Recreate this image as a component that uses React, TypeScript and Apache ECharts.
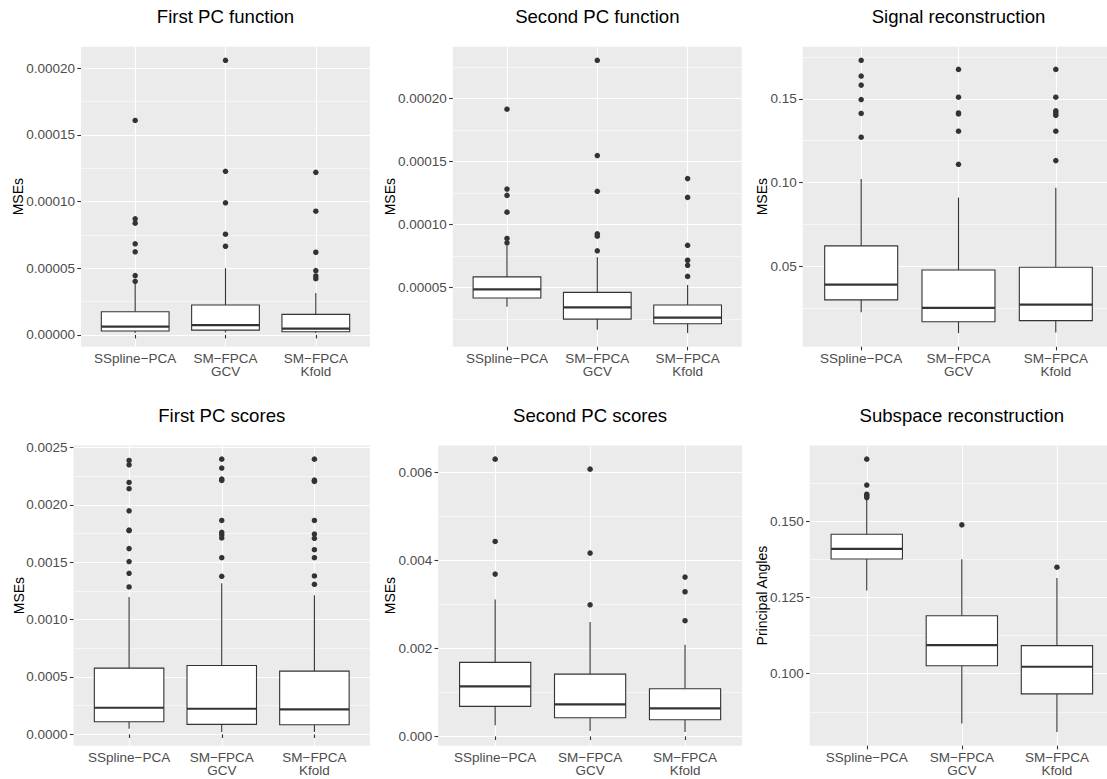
import React, { useEffect, useRef } from "react";
import * as echarts from "echarts";

// ---------- data ----------
const categories = ["SSpline−PCA", "SM−FPCA\nGCV", "SM−FPCA\nKfold"];
const categoryPositions = [1, 2, 3];

const panelTitles = [
  "First PC function",
  "Second PC function",
  "Signal reconstruction",
  "First PC scores",
  "Second PC scores",
  "Subspace reconstruction",
];
const yAxisTitles = ["MSEs", "MSEs", "MSEs", "MSEs", "MSEs", "Principal Angles"];

// boxes: [lower whisker, Q1, median, Q3, upper whisker]
const firstPcFunctionBoxes = [
  [1.3e-6, 2.8e-6, 6.2e-6, 1.73e-5, 3.85e-5],
  [1.7e-6, 3.5e-6, 7.3e-6, 2.23e-5, 5.0e-5],
  [1.3e-6, 2.3e-6, 4.7e-6, 1.53e-5, 3.13e-5],
];
const firstPcFunctionOutliers = [
  [1.607e-4, 8.7e-5, 8.37e-5, 6.82e-5, 6.22e-5, 4.44e-5, 4.01e-5],
  [2.058e-4, 1.226e-4, 9.9e-5, 7.54e-5, 6.64e-5],
  [1.218e-4, 9.27e-5, 6.19e-5, 4.81e-5, 4.41e-5, 4.21e-5],
];
const firstPcFunctionTicks = [0, 0.00005, 0.0001, 0.00015, 0.0002];
const firstPcFunctionMinorTicks = [0.000025, 0.000075, 0.000125, 0.000175];

const secondPcFunctionBoxes = [
  [3.46e-5, 4.15e-5, 4.84e-5, 5.83e-5, 8.3e-5],
  [1.63e-5, 2.48e-5, 3.41e-5, 4.6e-5, 7.39e-5],
  [1.37e-5, 2.11e-5, 2.59e-5, 3.6e-5, 5.19e-5],
];
const secondPcFunctionOutliers = [
  [1.914e-4, 1.28e-4, 1.23e-4, 1.097e-4, 8.88e-5, 8.53e-5],
  [2.302e-4, 1.546e-4, 1.262e-4, 9.25e-5, 9.06e-5, 7.9e-5],
  [1.363e-4, 1.214e-4, 8.34e-5, 7.15e-5, 6.75e-5, 5.87e-5],
];
const secondPcFunctionTicks = [0.00005, 0.0001, 0.00015, 0.0002];
const secondPcFunctionMinorTicks = [0.000025, 0.000075, 0.000125, 0.000175, 0.000225];

const signalBoxes = [
  [0.0225, 0.0299, 0.039, 0.0622, 0.1021],
  [0.0101, 0.0169, 0.0251, 0.0478, 0.091],
  [0.0105, 0.0175, 0.0271, 0.0494, 0.0969],
];
const signalOutliers = [
  [0.173, 0.1636, 0.1582, 0.1496, 0.1413, 0.1271],
  [0.1676, 0.151, 0.1416, 0.141, 0.1307, 0.1109],
  [0.1676, 0.151, 0.1428, 0.1416, 0.1402, 0.1307, 0.1131],
];
const signalTicks = [0.05, 0.1, 0.15];
const signalMinorTicks = [0.025, 0.075, 0.125, 0.175];

const firstPcScoresBoxes = [
  [4.9e-5, 1.1e-4, 2.32e-4, 5.77e-4, 1.198e-3],
  [2.0e-5, 8.7e-5, 2.23e-4, 6.0e-4, 1.317e-3],
  [2.0e-5, 8.4e-5, 2.18e-4, 5.51e-4, 1.213e-3],
];
const firstPcScoresOutliers = [
  [2.388e-3, 2.35e-3, 2.196e-3, 2.141e-3, 1.949e-3, 1.781e-3, 1.775e-3, 1.619e-3, 1.506e-3, 1.404e-3, 1.285e-3],
  [2.399e-3, 2.321e-3, 2.225e-3, 2.213e-3, 1.865e-3, 1.761e-3, 1.741e-3, 1.712e-3, 1.54e-3, 1.378e-3],
  [2.399e-3, 2.216e-3, 2.205e-3, 1.865e-3, 1.746e-3, 1.709e-3, 1.61e-3, 1.54e-3, 1.381e-3, 1.308e-3],
];
const firstPcScoresTicks = [0, 0.0005, 0.001, 0.0015, 0.002, 0.0025];
const firstPcScoresMinorTicks = [0.00025, 0.00075, 0.00125, 0.00175, 0.00225];

const secondPcScoresBoxes = [
  [2.5e-4, 6.82e-4, 1.136e-3, 1.682e-3, 3.114e-3],
  [1.2e-4, 4.24e-4, 7.27e-4, 1.416e-3, 2.598e-3],
  [9.8e-5, 3.79e-4, 6.36e-4, 1.083e-3, 2.083e-3],
];
const secondPcScoresOutliers = [
  [6.303e-3, 4.432e-3, 3.689e-3],
  [6.076e-3, 4.167e-3, 2.992e-3],
  [3.621e-3, 3.288e-3, 2.629e-3],
];
const secondPcScoresTicks = [0, 0.002, 0.004, 0.006];
const secondPcScoresMinorTicks = [0.001, 0.003, 0.005];

const subspaceBoxes = [
  [0.1273, 0.1376, 0.1409, 0.1457, 0.1572],
  [0.0837, 0.1026, 0.1094, 0.119, 0.1375],
  [0.0809, 0.0934, 0.1023, 0.1092, 0.1314],
];
const subspaceOutliers = [
  [0.1703, 0.1618, 0.1588, 0.1583, 0.1577],
  [0.1488],
  [0.1349],
];
const subspaceTicks = [0.1, 0.125, 0.15];
const subspaceMinorTicks = [0.0875, 0.1125, 0.1375, 0.1625];

const tickDecimals = [5, 5, 2, 4, 3, 3];

const panelBoxes = [firstPcFunctionBoxes, secondPcFunctionBoxes, signalBoxes, firstPcScoresBoxes, secondPcScoresBoxes, subspaceBoxes];
const panelOutliers = [firstPcFunctionOutliers, secondPcFunctionOutliers, signalOutliers, firstPcScoresOutliers, secondPcScoresOutliers, subspaceOutliers];
const panelTicks = [firstPcFunctionTicks, secondPcFunctionTicks, signalTicks, firstPcScoresTicks, secondPcScoresTicks, subspaceTicks];
const panelMinorTicks = [firstPcFunctionMinorTicks, secondPcFunctionMinorTicks, signalMinorTicks, firstPcScoresMinorTicks, secondPcScoresMinorTicks, subspaceMinorTicks];

// ---------- layout ----------
const layout = [
  { left: 81, top: 46.7, width: 289, height: 300, titleY: 16, axisTitleX: 18.3 },
  { left: 452.8, top: 46.7, width: 289, height: 300, titleY: 16, axisTitleX: 389.5 },
  { left: 802.8, top: 46.7, width: 311.4, height: 300, titleY: 16, axisTitleX: 761.8 },
  { left: 73.5, top: 445.5, width: 296.5, height: 300.2, titleY: 415, axisTitleX: 18.7 },
  { left: 438.2, top: 445.5, width: 303.8, height: 300.2, titleY: 415, axisTitleX: 390.3 },
  { left: 809.7, top: 445.5, width: 304.3, height: 300.2, titleY: 415, axisTitleX: 761.5 },
];

const FONT = "'Liberation Sans', Arial, Helvetica, sans-serif";
const INK = "#333333";

function rangeOf(boxes: number[][], outliers: number[][]) {
  let lo = Infinity;
  let hi = -Infinity;
  boxes.forEach((b) => {
    lo = Math.min(lo, b[0]);
    hi = Math.max(hi, b[4]);
  });
  outliers.forEach((o) => o.forEach((v) => {
    lo = Math.min(lo, v);
    hi = Math.max(hi, v);
  }));
  const pad = (hi - lo) * 0.05;
  return [lo - pad, hi + pad];
}

function renderBox(params: any, api: any) {
  const x = api.value(0);
  const pMin = api.coord([x, api.value(1)]);
  const yQ1 = api.coord([x, api.value(2)])[1];
  const yMed = api.coord([x, api.value(3)])[1];
  const yQ3 = api.coord([x, api.value(4)])[1];
  const yMax = api.coord([x, api.value(5)])[1];
  const cx = pMin[0];
  const half = api.size([0.75, 0])[0] / 2;
  const lineStyle = { stroke: INK, lineWidth: 1.1, fill: null };
  return {
    type: "group",
    children: [
      { type: "line", shape: { x1: cx, y1: yQ3, x2: cx, y2: yMax }, style: lineStyle },
      { type: "line", shape: { x1: cx, y1: yQ1, x2: cx, y2: pMin[1] }, style: lineStyle },
      {
        type: "rect",
        shape: { x: cx - half, y: yQ3, width: half * 2, height: yQ1 - yQ3 },
        style: { fill: "#FFFFFF", stroke: INK, lineWidth: 1.1 },
      },
      { type: "line", shape: { x1: cx - half, y1: yMed, x2: cx + half, y2: yMed }, style: { stroke: INK, lineWidth: 2.2 } },
    ],
  };
}

function buildOption() {
  const grid: any[] = [];
  const xAxis: any[] = [];
  const yAxis: any[] = [];
  const series: any[] = [];
  const graphic: any[] = [];

  layout.forEach((l, i) => {
    const [yMin, yMax] = rangeOf(panelBoxes[i], panelOutliers[i]);
    grid.push({
      left: l.left,
      top: l.top,
      width: l.width,
      height: l.height,
      show: true,
      backgroundColor: "#EBEBEB",
      borderWidth: 0,
      containLabel: false,
      outerBoundsMode: "none",
    });
    xAxis.push({
      type: "value",
      gridIndex: i,
      min: 0.4,
      max: 3.6,
      axisLine: { show: false },
      axisTick: {
        show: true,
        length: 3.7,
        customValues: categoryPositions,
        lineStyle: { color: INK, width: 1.1 },
      },
      axisLabel: {
        customValues: categoryPositions,
        formatter: (v: number) => categories[Math.round(v) - 1] || "",
        color: "#4D4D4D",
        fontSize: 13.5,
        fontFamily: FONT,
        lineHeight: 13,
        margin: 5,
      },
      splitLine: { show: true, lineStyle: { color: "#FFFFFF", width: 1.1 } },
    });
    const dec = tickDecimals[i];
    yAxis.push({
      type: "value",
      gridIndex: i,
      position: "left",
      min: yMin,
      max: yMax,
      axisLine: { show: false },
      axisTick: {
        show: true,
        length: 3.7,
        customValues: panelTicks[i],
        lineStyle: { color: INK, width: 1.1 },
      },
      axisLabel: {
        customValues: panelTicks[i],
        formatter: (v: number) => v.toFixed(dec),
        color: "#4D4D4D",
        fontSize: 13.5,
        fontFamily: FONT,
        margin: 6,
      },
      splitLine: { show: true, lineStyle: { color: "#FFFFFF", width: 1.1 } },
    });
    yAxis.push({
      type: "value",
      gridIndex: i,
      position: "left",
      min: yMin,
      max: yMax,
      axisLine: { show: false },
      axisTick: { show: false, customValues: panelMinorTicks[i] },
      axisLabel: { show: false, customValues: panelMinorTicks[i] },
      splitLine: { show: true, lineStyle: { color: "#FFFFFF", width: 0.55 } },
    });

    series.push({
      type: "custom",
      xAxisIndex: i,
      yAxisIndex: 2 * i,
      renderItem: renderBox,
      encode: { x: 0, y: [1, 2, 3, 4, 5] },
      data: panelBoxes[i].map((b, k) => [categoryPositions[k], ...b]),
      z: 2,
    });
    const pts: number[][] = [];
    panelOutliers[i].forEach((vals, k) => vals.forEach((v) => pts.push([categoryPositions[k], v])));
    series.push({
      type: "scatter",
      xAxisIndex: i,
      yAxisIndex: 2 * i,
      data: pts,
      symbol: "circle",
      symbolSize: 5.5,
      itemStyle: { color: INK, opacity: 1 },
      z: 3,
    });

    graphic.push({
      type: "text",
      x: l.left + l.width / 2,
      y: l.titleY,
      style: {
        text: panelTitles[i],
        font: `18.6px ${FONT}`,
        fill: "#000000",
        align: "center",
        verticalAlign: "middle",
      },
    });
    graphic.push({
      type: "text",
      x: l.axisTitleX,
      y: l.top + l.height / 2,
      rotation: Math.PI / 2,
      style: {
        text: yAxisTitles[i],
        font: `14px ${FONT}`,
        fill: "#000000",
        align: "center",
        verticalAlign: "middle",
      },
    });
  });

  return {
    animation: false,
    backgroundColor: "#FFFFFF",
    grid,
    xAxis,
    yAxis,
    series,
    graphic,
  };
}

export default function App() {
  const ref = useRef<HTMLDivElement>(null);
  useEffect(() => {
    if (!ref.current) return;
    const chart = echarts.init(ref.current, undefined, { renderer: "svg" });
    chart.setOption(buildOption() as any);
    return () => chart.dispose();
  }, []);
  return (
    <div style={{ position: "fixed", left: 0, top: 0, width: 1107, height: 779, overflow: "hidden", background: "#FFFFFF" }}>
      <div ref={ref} style={{ width: 1120, height: 779 }} />
    </div>
  );
}
